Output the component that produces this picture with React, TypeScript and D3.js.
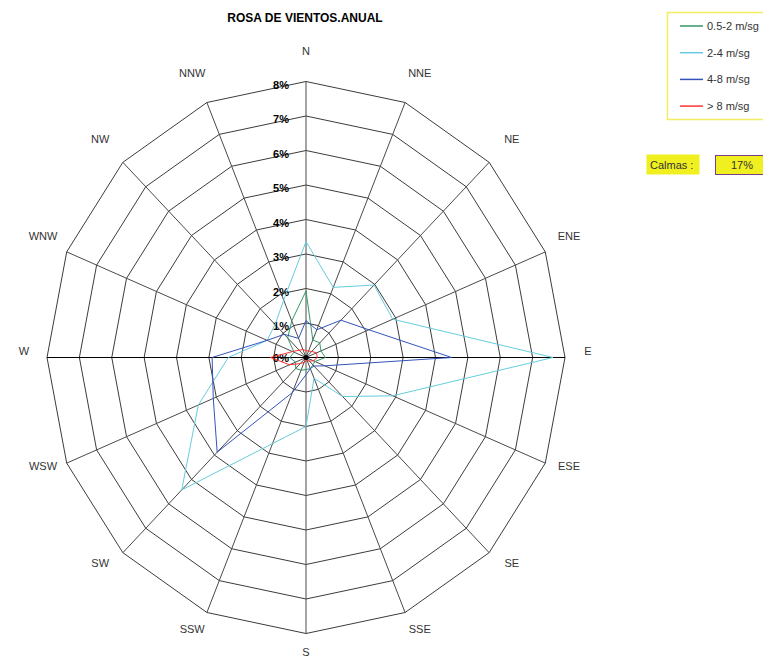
import React from "react";
import * as d3 from "d3";

// rumbos, en sentido horario desde el norte
const directions = ["N", "NNE", "NE", "ENE", "E", "ESE", "SE", "SSE", "S", "SSW", "SW", "WSW", "W", "WNW", "NW", "NNW"];
const ringTicks = [0, 1, 2, 3, 4, 5, 6, 7, 8];

// frecuencias (%) por rango de velocidad
const speed05to2 = [1.93, 0.55, 0.6, 0.5, 0.6, 0.3, 0.3, 0.35, 0.35, 0.4, 0.45, 0.35, 0.5, 0.4, 0.8, 1.15];
const speed2to4 = [3.36, 2.2, 2.97, 2.9, 7.63, 2.9, 1.6, 0.65, 2.0, 2.7, 5.43, 3.6, 2.4, 1.3, 1.35, 1.8];
const speed4to8 = [1.07, 0.87, 1.53, 2.1, 4.5, 0.63, 0.35, 0.35, 0.5, 1.1, 3.88, 3.1, 2.9, 1.3, 0.95, 0.6];
const speedOver8 = [0.2, 0.2, 0.25, 0.35, 0.35, 0.25, 0.15, 0.1, 0.1, 0.15, 0.25, 0.55, 1.1, 0.45, 0.3, 0.25];

const seriesNames = ["0.5-2 m/sg", "2-4 m/sg", "4-8 m/sg", "> 8 m/sg"];
const seriesColors = ["#339966", "#66CCDD", "#3355BB", "#FF3333"];
const calmas = "17%";

const W = 763;
const H = 657;
const cx = 306;
const cy = 357.5;
const font = "Liberation Sans, Arial, sans-serif";

const App = () => {
  const rx = d3.scaleLinear().domain([0, 8]).range([0, 259]);
  const ry = d3.scaleLinear().domain([0, 8]).range([0, 276]);
  const angle = d3.scalePoint<string>().domain(directions).range([0, 2 * Math.PI * (15 / 16)]);

  const pt = (dir: string, v: number): [number, number] => {
    const a = angle(dir) as number;
    return [cx + rx(v) * Math.sin(a), cy - ry(v) * Math.cos(a)];
  };

  const closed = d3.line().curve(d3.curveLinearClosed);
  const series = [speed05to2, speed2to4, speed4to8, speedOver8];

  const ringY = (v: number, x: number) => {
    // y of the ring on the segment between N and NNW at given x
    const [x0, y0] = pt("N", v);
    const [x1, y1] = pt("NNW", v);
    return y0 + ((x - x0) / (x1 - x0)) * (y1 - y0);
  };

  return (
    <div style={{ position: "absolute", left: 0, top: 0 }}>
      <svg width={W} height={H} style={{ display: "block", background: "#fff" }}>
        <text x={305} y={22} textAnchor="middle" fontFamily={font} fontWeight="bold" fontSize={12}>
          ROSA DE VIENTOS.ANUAL
        </text>

        {/* anillos */}
        {ringTicks.slice(1).map((v) => (
          <path
            key={v}
            d={closed(directions.map((d) => pt(d, v))) as string}
            fill="none"
            stroke="#3c3c3c"
            strokeWidth={1}
          />
        ))}
        {/* radios */}
        {directions.map((d) => {
          const [x, y] = pt(d, 8);
          const horiz = d === "E" || d === "W";
          return <line key={d} x1={cx} y1={cy} x2={x} y2={y} stroke={horiz ? "#000" : "#4a4a4a"} strokeWidth={1} />;
        })}

        {/* etiquetas de escala */}
        {ringTicks.map((v) => {
          const x = cx - 17;
          return (
            <text
              key={v}
              x={x}
              y={v === 0 ? cy + 4 : ringY(v, x - 8) + 2}
              textAnchor="end"
              fontFamily={font}
              fontWeight="bold"
              fontSize={11}
              fill="#000"
            >
              {v}%
            </text>
          );
        })}

        {/* rumbos */}
        {directions.map((d) => {
          const a = angle(d) as number;
          const s = Math.sin(a);
          const c = Math.cos(a);
          const x = cx + (rx(8) + 41) * s - 18 * s * s * s;
          const y = cy - 6.5 - (ry(8) + 24.5) * c;
          return (
            <text
              key={d}
              x={x}
              y={y}
              textAnchor="middle"
              dominantBaseline="central"
              fontFamily={font}
              fontSize={11}
              fill="#333"
            >
              {d}
            </text>
          );
        })}

        {/* series */}
        {series.map((vals, i) => (
          <path
            key={i}
            d={closed(directions.map((d, j) => pt(d, vals[j]))) as string}
            fill="none"
            stroke={seriesColors[i]}
            strokeWidth={1}
          />
        ))}
        <circle cx={cx} cy={cy} r={2.5} fill="#000" />

        {/* leyenda */}
        <rect x={667.5} y={12.5} width={110} height={107} fill="#fff" stroke="#F2EE60" strokeWidth={1.5} />
        {seriesNames.map((name, i) => {
          const y = 26 + i * 26.7;
          return (
            <g key={name}>
              <line x1={680} x2={703} y1={y} y2={y} stroke={seriesColors[i]} strokeWidth={1.5} />
              <text x={707} y={y} dominantBaseline="central" fontFamily={font} fontSize={11} fill="#333">
                {name}
              </text>
            </g>
          );
        })}

        {/* calmas */}
        <rect x={646.5} y={154.5} width={53} height={20} fill="#F0F020" />
        <text x={650} y={164.5} dominantBaseline="central" fontFamily={font} fontSize={11} fill="#333">
          Calmas :
        </text>
        <rect x={715.5} y={155.5} width={60} height={19} fill="#F0F020" stroke="#7B3F86" strokeWidth={1} />
        <text x={742} y={165} textAnchor="middle" dominantBaseline="central" fontFamily={font} fontSize={11} fill="#333">
          {calmas}
        </text>
      </svg>
    </div>
  );
};

export default App;
